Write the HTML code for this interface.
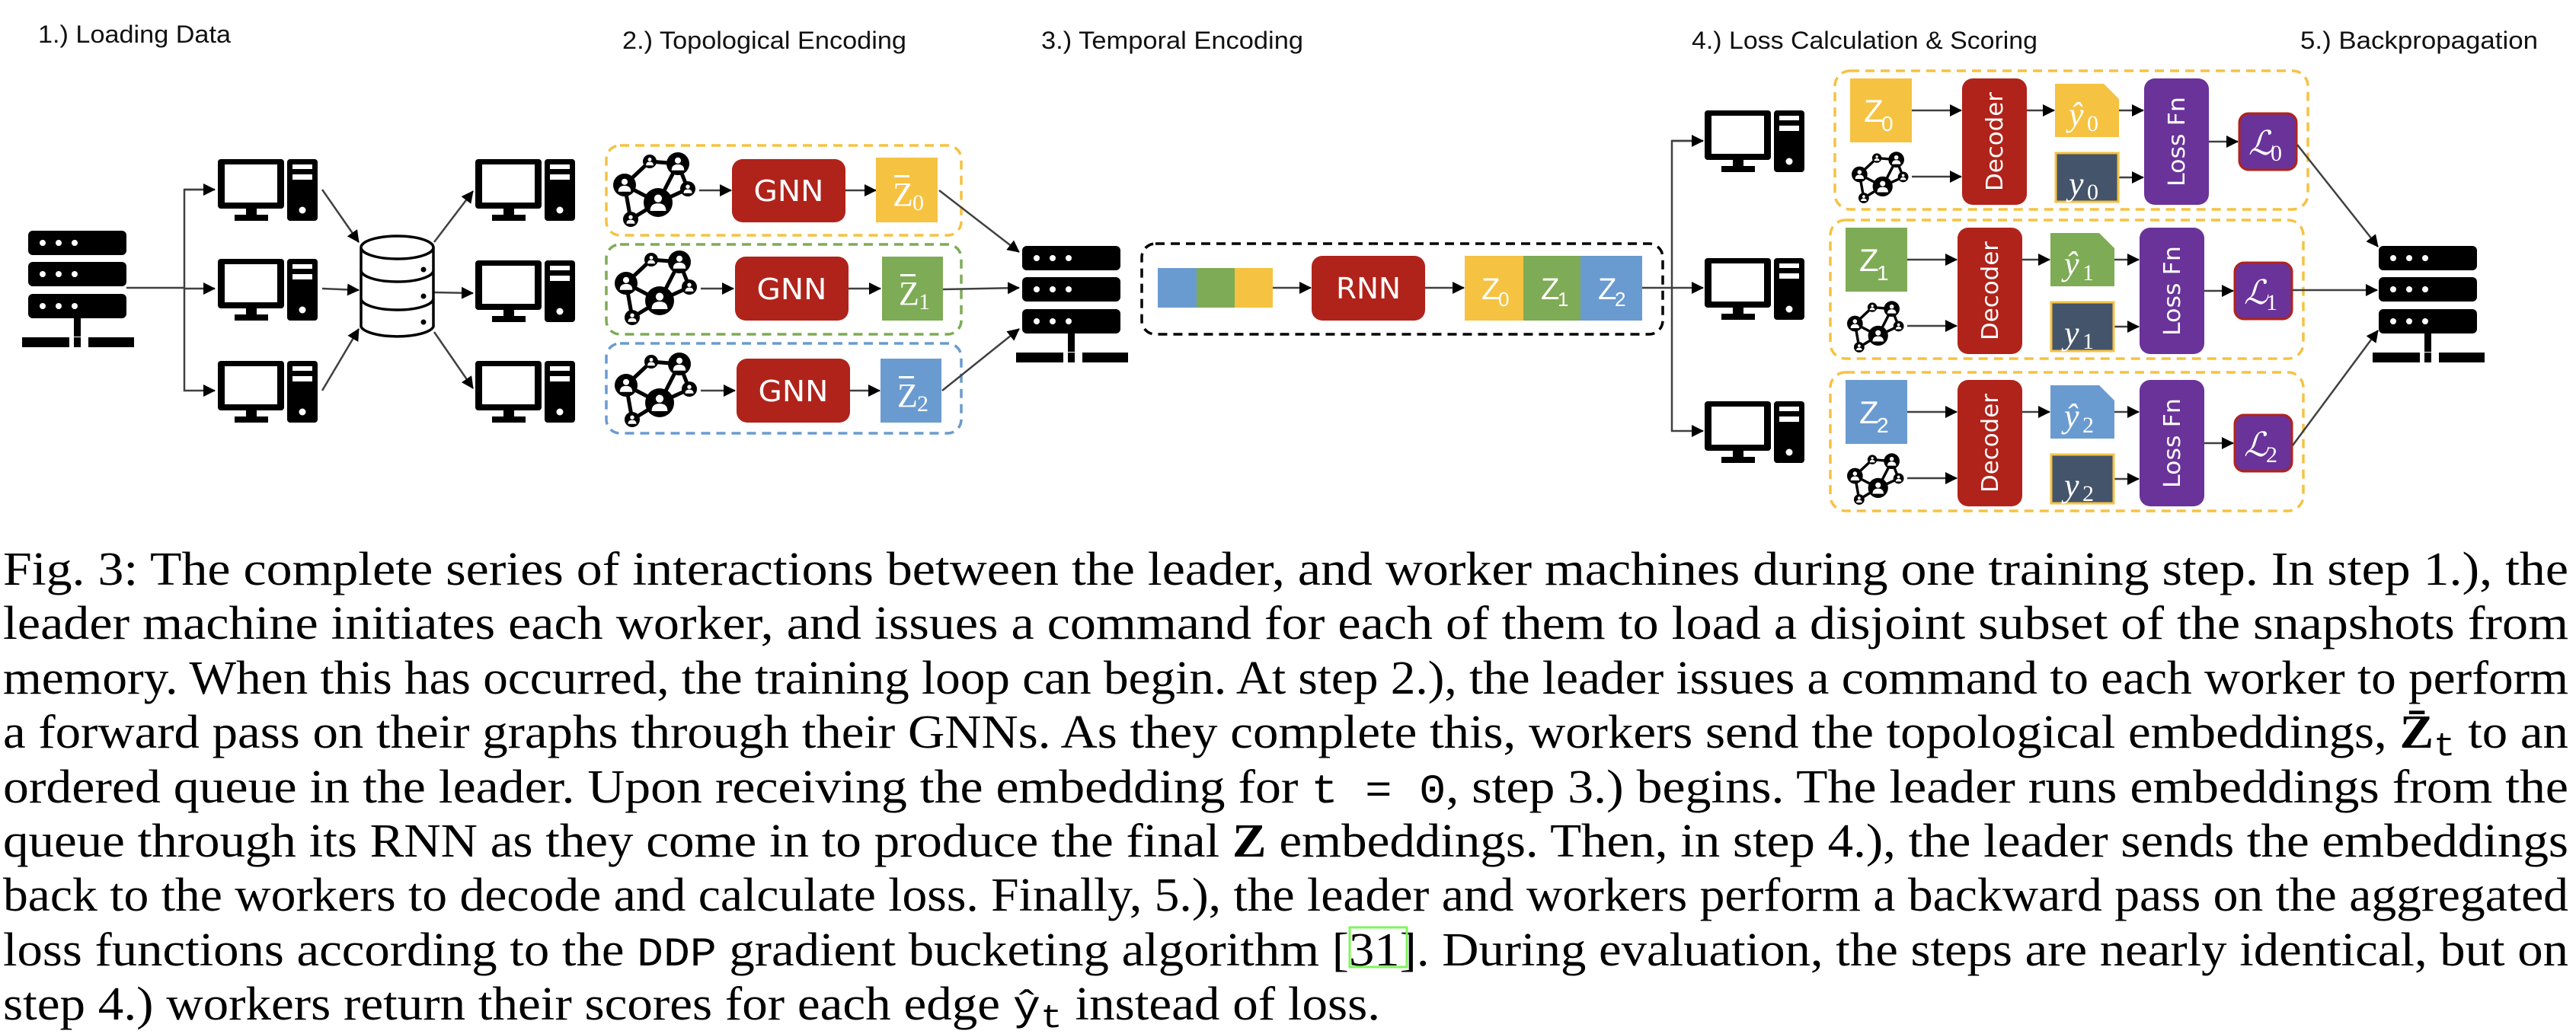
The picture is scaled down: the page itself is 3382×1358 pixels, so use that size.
<!DOCTYPE html>
<html><head><meta charset="utf-8"><style>
html,body{margin:0;padding:0;background:#fff;}
svg{display:block;}
</style></head><body>
<svg width="3382" height="1358" viewBox="0 0 3382 1358" xmlns="http://www.w3.org/2000/svg">
<defs>
<marker id="ah" markerWidth="16" markerHeight="16" refX="15" refY="8" orient="auto" markerUnits="userSpaceOnUse">
<path d="M0,0 L16,8 L0,16 Z" fill="#000"/>
</marker>
<g id="nd">
<circle r="1" fill="#000"/>
<circle cx="0" cy="-0.28" r="0.27" fill="#fff"/>
<path d="M-0.55,0.58 Q-0.55,0.06 0,0.06 Q0.55,0.06 0.55,0.58 Z" fill="#fff"/>
</g>
<g id="gr">
<g stroke="#000" stroke-width="5" fill="none">
<line x1="15" y1="42" x2="48" y2="11"/><line x1="48" y1="11" x2="85" y2="14"/>
<line x1="85" y1="14" x2="98" y2="47"/><line x1="85" y1="14" x2="59" y2="65"/>
<line x1="98" y1="47" x2="59" y2="65"/><line x1="15" y1="42" x2="59" y2="65"/>
<line x1="15" y1="42" x2="23" y2="87"/><line x1="23" y1="87" x2="59" y2="65"/>
</g>
<use href="#nd" transform="translate(15,42) scale(15)"/>
<use href="#nd" transform="translate(48,11) scale(9)"/>
<use href="#nd" transform="translate(85,14) scale(15)"/>
<use href="#nd" transform="translate(98,47) scale(10)"/>
<use href="#nd" transform="translate(59,65) scale(19)"/>
<use href="#nd" transform="translate(23,87) scale(10)"/>
</g>
<g id="pc">
<rect x="0" y="0" width="87" height="65" rx="4" fill="#000"/>
<rect x="9" y="7" width="69" height="50" fill="#fff"/>
<rect x="37" y="64" width="14" height="10" fill="#000"/>
<rect x="22" y="73" width="44" height="8" fill="#000"/>
<rect x="91" y="0" width="40" height="81" rx="4" fill="#000"/>
<rect x="98" y="7" width="26" height="6" fill="#fff"/>
<rect x="98" y="20" width="26" height="7" fill="#fff"/>
<circle cx="111" cy="67" r="4.5" fill="#fff"/>
</g>
<g id="srv">
<rect x="0" y="0" width="129" height="32" rx="6" fill="#000"/>
<rect x="0" y="41" width="129" height="32" rx="6" fill="#000"/>
<rect x="0" y="83" width="129" height="32" rx="6" fill="#000"/>
<g fill="#fff">
<circle cx="19" cy="16" r="4"/><circle cx="40" cy="16" r="4"/><circle cx="61" cy="16" r="4"/>
<circle cx="19" cy="57" r="4"/><circle cx="40" cy="57" r="4"/><circle cx="61" cy="57" r="4"/>
<circle cx="19" cy="99" r="4"/><circle cx="40" cy="99" r="4"/><circle cx="61" cy="99" r="4"/>
</g>
<rect x="60" y="115" width="9" height="24" fill="#000"/>
<rect x="-8" y="140" width="62" height="13" fill="#000"/>
<rect x="60" y="140" width="9" height="13" fill="#000"/>
<rect x="79" y="140" width="60" height="13" fill="#000"/>
</g>
</defs>

<!-- Titles -->
<g font-family="Liberation Sans, sans-serif" font-size="32" fill="#111">
<text x="50" y="56" textLength="253" lengthAdjust="spacingAndGlyphs">1.) Loading Data</text>
<text x="817" y="64" textLength="373" lengthAdjust="spacingAndGlyphs">2.) Topological Encoding</text>
<text x="1367" y="64" textLength="344" lengthAdjust="spacingAndGlyphs">3.) Temporal Encoding</text>
<text x="2221" y="64" textLength="454" lengthAdjust="spacingAndGlyphs">4.) Loss Calculation &amp; Scoring</text>
<text x="3020" y="64" textLength="312" lengthAdjust="spacingAndGlyphs">5.) Backpropagation</text>
</g>

<!-- Stage 1 -->
<use href="#srv" transform="translate(37,303)"/>
<g stroke="#404040" stroke-width="2.5" fill="none">
<polyline points="166,378 242,378"/>
<polyline points="282,249 242,249 242,513 282,513" marker-end="url(#ah)"/>
<line x1="242" y1="249" x2="282" y2="249" marker-end="url(#ah)"/>
<line x1="242" y1="379" x2="282" y2="379" marker-end="url(#ah)"/>
<line x1="423" y1="249" x2="471" y2="318" marker-end="url(#ah)"/>
<line x1="423" y1="379" x2="471" y2="381" marker-end="url(#ah)"/>
<line x1="423" y1="513" x2="471" y2="432" marker-end="url(#ah)"/>
<line x1="570" y1="318" x2="621" y2="251" marker-end="url(#ah)"/>
<line x1="570" y1="384" x2="621" y2="385" marker-end="url(#ah)"/>
<line x1="570" y1="436" x2="621" y2="510" marker-end="url(#ah)"/>
</g>
<use href="#pc" transform="translate(286,209)"/>
<use href="#pc" transform="translate(286,340)"/>
<use href="#pc" transform="translate(286,474)"/>
<use href="#pc" transform="translate(624,209)"/>
<use href="#pc" transform="translate(624,342)"/>
<use href="#pc" transform="translate(624,474)"/>
<!-- database -->
<g stroke="#000" stroke-width="3.5" fill="#fff">
<path d="M474,325 L474,429 A48,15 0 0 0 569,429 L569,325"/>
<ellipse cx="521.5" cy="325" rx="47.5" ry="15"/>
<path d="M474,355 A47.5,15 0 0 0 569,355" fill="none"/>
<path d="M474,392 A47.5,15 0 0 0 569,392" fill="none"/>
</g>
<g fill="#000"><circle cx="556" cy="354" r="3.5"/><circle cx="556" cy="389" r="3.5"/><circle cx="556" cy="423" r="3.5"/></g>

<!-- Stage 2 -->
<g fill="none" stroke-width="3.5" stroke-dasharray="12 8">
<rect x="796" y="191" width="466" height="118" rx="18" stroke="#f5c242"/>
<rect x="796" y="321" width="466" height="118" rx="18" stroke="#7eab55"/>
<rect x="796" y="451" width="466" height="118" rx="18" stroke="#6a9bd0"/>
</g>
<use href="#gr" transform="translate(805,201)"/>
<use href="#gr" transform="translate(807,330)"/>
<use href="#gr" transform="translate(807,464)"/>
<g stroke="#404040" stroke-width="2.5">
<line x1="918" y1="250" x2="960" y2="250" marker-end="url(#ah)"/>
<line x1="1110" y1="250" x2="1150" y2="250" marker-end="url(#ah)"/>
<line x1="920" y1="379" x2="963" y2="379" marker-end="url(#ah)"/>
<line x1="1114" y1="379" x2="1156" y2="379" marker-end="url(#ah)"/>
<line x1="920" y1="513" x2="965" y2="513" marker-end="url(#ah)"/>
<line x1="1116" y1="513" x2="1155" y2="513" marker-end="url(#ah)"/>
<line x1="1233" y1="250" x2="1338" y2="331" marker-end="url(#ah)"/>
<line x1="1238" y1="380" x2="1338" y2="378" marker-end="url(#ah)"/>
<line x1="1237" y1="513" x2="1338" y2="432" marker-end="url(#ah)"/>
</g>
<g fill="#b0231a">
<rect x="961" y="209" width="149" height="83" rx="14"/>
<rect x="965" y="337" width="149" height="84" rx="14"/>
<rect x="967" y="471" width="149" height="84" rx="14"/>
</g>
<g font-family="DejaVu Sans, sans-serif" font-size="38" fill="#fff" text-anchor="middle">
<text x="1035.5" y="264" textLength="92" lengthAdjust="spacingAndGlyphs">GNN</text>
<text x="1039.5" y="393" textLength="92" lengthAdjust="spacingAndGlyphs">GNN</text>
<text x="1041.5" y="527" textLength="92" lengthAdjust="spacingAndGlyphs">GNN</text>
</g>
<rect x="1150" y="207" width="81" height="85" fill="#f5c242"/>
<rect x="1158" y="337" width="80" height="84" fill="#7eab55"/>
<rect x="1156" y="471" width="80" height="84" fill="#6a9bd0"/>
<g font-family="Liberation Serif, serif" fill="#fff">
<text x="1172" y="270" font-size="44">Z</text><text x="1198" y="276" font-size="30">0</text>
<rect x="1174" y="230" width="20" height="3"/>
<text x="1180" y="400" font-size="44">Z</text><text x="1206" y="406" font-size="30">1</text>
<rect x="1182" y="360" width="20" height="3"/>
<text x="1178" y="534" font-size="44">Z</text><text x="1204" y="540" font-size="30">2</text>
<rect x="1180" y="494" width="20" height="3"/>
</g>

<!-- Stage 3 -->
<use href="#srv" transform="translate(1342,323)"/>
<rect x="1499" y="320" width="684" height="119" rx="18" fill="none" stroke="#000" stroke-width="3.5" stroke-dasharray="12 8"/>
<rect x="1520" y="352" width="51" height="52" fill="#6a9bd0"/>
<rect x="1571" y="352" width="50" height="52" fill="#7eab55"/>
<rect x="1621" y="352" width="50" height="52" fill="#f5c242"/>
<g stroke="#404040" stroke-width="2.5" fill="none">
<line x1="1671" y1="378" x2="1721" y2="378" marker-end="url(#ah)"/>
<line x1="1871" y1="378" x2="1922" y2="378" marker-end="url(#ah)"/>
<line x1="2156" y1="378" x2="2236" y2="378" marker-end="url(#ah)"/>
<polyline points="2236,185 2195,185 2195,566 2236,566" marker-end="url(#ah)"/>
<line x1="2195" y1="185" x2="2236" y2="185" marker-end="url(#ah)"/>
</g>
<rect x="1722" y="336" width="149" height="85" rx="14" fill="#b0231a"/>
<text x="1796.5" y="392" font-family="DejaVu Sans, sans-serif" font-size="38" fill="#fff" text-anchor="middle" textLength="85" lengthAdjust="spacingAndGlyphs">RNN</text>
<rect x="1923" y="336" width="77" height="85" fill="#f5c242"/>
<rect x="2000" y="336" width="75" height="85" fill="#7eab55"/>
<rect x="2075" y="336" width="81" height="85" fill="#6a9bd0"/>
<g font-family="Liberation Sans, sans-serif" fill="#fff">
<text x="1945" y="393" font-size="40">Z</text><text x="1967" y="402" font-size="26">0</text>
<text x="2023" y="393" font-size="40">Z</text><text x="2045" y="402" font-size="26">1</text>
<text x="2098" y="393" font-size="40">Z</text><text x="2120" y="402" font-size="26">2</text>
</g>

<!-- Stage 4 -->
<use href="#pc" transform="translate(2238,145)"/>
<use href="#pc" transform="translate(2238,339)"/>
<use href="#pc" transform="translate(2238,527)"/>

<g id="row0">
<rect x="2409" y="93" width="621" height="182" rx="20" fill="none" stroke="#f5c242" stroke-width="3.5" stroke-dasharray="12 8"/>
<use href="#gr" transform="translate(2431,200) scale(0.69)"/>
<g stroke="#404040" stroke-width="2.5">
<line x1="2510" y1="145" x2="2575" y2="145" marker-end="url(#ah)"/>
<line x1="2510" y1="232" x2="2575" y2="232" marker-end="url(#ah)"/>
<line x1="2661" y1="145" x2="2697" y2="145" marker-end="url(#ah)"/>
<line x1="2782" y1="145" x2="2814" y2="145" marker-end="url(#ah)"/>
<line x1="2782" y1="233" x2="2814" y2="233" marker-end="url(#ah)"/>
<line x1="2900" y1="186" x2="2938" y2="186" marker-end="url(#ah)"/>
</g>
<rect x="2576" y="103" width="85" height="166" rx="14" fill="#b0231a"/>
<rect x="2815" y="103" width="85" height="166" rx="14" fill="#6a3399"/>
<rect x="2940" y="149" width="75" height="74" rx="12" fill="#6a3399" stroke="#b0231a" stroke-width="3"/>
<rect x="2699" y="201" width="82" height="64" fill="#44546a" stroke="#f5c242" stroke-width="3"/>
<g font-family="DejaVu Sans, sans-serif" font-size="30" fill="#fff" text-anchor="middle">
<text transform="translate(2629,186) rotate(-90)" textLength="130" lengthAdjust="spacingAndGlyphs">Decoder</text>
<text transform="translate(2868,186) rotate(-90)" textLength="118" lengthAdjust="spacingAndGlyphs">Loss Fn</text>
</g>
</g>
<use href="#row0" transform="translate(-6,196)"/>
<use href="#row0" transform="translate(-6,396)"/>

<!-- row-specific colored boxes -->
<rect x="2429" y="103" width="81" height="84" fill="#f5c242"/>
<path d="M2698,110 H2762 L2782,130 V180 H2698 Z" fill="#f5c242"/>
<rect x="2423" y="299" width="81" height="84" fill="#7eab55"/>
<path d="M2692,306 H2756 L2776,326 V376 H2692 Z" fill="#7eab55"/>
<rect x="2423" y="499" width="81" height="84" fill="#6a9bd0"/>
<path d="M2692,506 H2756 L2776,526 V576 H2692 Z" fill="#6a9bd0"/>

<g font-family="Liberation Sans, sans-serif" fill="#fff">
<text x="2447" y="160" font-size="42">Z</text><text x="2470" y="172" font-size="28">0</text>
<text x="2441" y="356" font-size="42">Z</text><text x="2464" y="368" font-size="28">1</text>
<text x="2441" y="556" font-size="42">Z</text><text x="2464" y="568" font-size="28">2</text>
</g>
<g font-family="Liberation Serif, serif" fill="#fff">
<g font-style="italic" font-size="44">
<text x="2716" y="165">ŷ</text><text x="2716" y="256">y</text>
<text x="2710" y="361">ŷ</text><text x="2710" y="452">y</text>
<text x="2710" y="561">ŷ</text><text x="2710" y="652">y</text>
</g>
<g font-size="30">
<text x="2740" y="172">0</text><text x="2740" y="262">0</text>
<text x="2734" y="368">1</text><text x="2734" y="458">1</text>
<text x="2734" y="568">2</text><text x="2734" y="658">2</text>
</g>
<g font-style="italic" font-size="44">
<text x="2952" y="203">ℒ</text><text x="2946" y="399">ℒ</text><text x="2946" y="599">ℒ</text>
</g>
<g font-size="30">
<text x="2981" y="211">0</text><text x="2975" y="407">1</text><text x="2975" y="607">2</text>
</g>
</g>

<!-- Stage 5 -->
<g stroke="#404040" stroke-width="2.5">
<line x1="3016" y1="190" x2="3122" y2="324" marker-end="url(#ah)"/>
<line x1="3010" y1="381" x2="3121" y2="381" marker-end="url(#ah)"/>
<line x1="3010" y1="585" x2="3122" y2="434" marker-end="url(#ah)"/>
</g>
<use href="#srv" transform="translate(3123,323)"/>

<!-- Caption -->
<g font-family="Liberation Serif, serif" font-size="62" fill="#000">
<text x="4" y="768" textLength="3368" lengthAdjust="spacingAndGlyphs">Fig. 3: The complete series of interactions between the leader, and worker machines during one training step. In step 1.), the</text>
<text x="4" y="839" textLength="3368" lengthAdjust="spacingAndGlyphs">leader machine initiates each worker, and issues a command for each of them to load a disjoint subset of the snapshots from</text>
<text x="4" y="911" textLength="3368" lengthAdjust="spacingAndGlyphs">memory. When this has occurred, the training loop can begin. At step 2.), the leader issues a command to each worker to perform</text>
<text x="4" y="982" textLength="3368" lengthAdjust="spacingAndGlyphs">a forward pass on their graphs through their GNNs. As they complete this, workers send the topological embeddings, <tspan font-weight="bold">Z̄</tspan><tspan font-family="Liberation Mono, monospace" font-size="44" dy="10">t</tspan><tspan dy="-10"> to an</tspan></text>
<text x="4" y="1054" textLength="3368" lengthAdjust="spacingAndGlyphs">ordered queue in the leader. Upon receiving the embedding for <tspan font-family="Liberation Mono, monospace" font-size="54">t = 0</tspan>, step 3.) begins. The leader runs embeddings from the</text>
<text x="4" y="1125" textLength="3368" lengthAdjust="spacingAndGlyphs">queue through its RNN as they come in to produce the final <tspan font-weight="bold">Z</tspan> embeddings. Then, in step 4.), the leader sends the embeddings</text>
<text x="4" y="1196" textLength="3368" lengthAdjust="spacingAndGlyphs">back to the workers to decode and calculate loss. Finally, 5.), the leader and workers perform a backward pass on the aggregated</text>
<text x="4" y="1268" textLength="3368" lengthAdjust="spacingAndGlyphs">loss functions according to the <tspan font-family="Liberation Mono, monospace" font-size="54">DDP</tspan> gradient bucketing algorithm [31]. During evaluation, the steps are nearly identical, but on</text>
<text x="4" y="1339" textLength="1808" lengthAdjust="spacingAndGlyphs">step 4.) workers return their scores for each edge <tspan font-family="Liberation Mono, monospace" font-size="56">ŷ</tspan><tspan font-family="Liberation Mono, monospace" font-size="44" dy="10">t</tspan><tspan dy="-10"> instead of loss.</tspan></text>
</g>
<rect x="1772" y="1218" width="75" height="52" fill="none" stroke="#7ef55a" stroke-width="3"/>
</svg>
</body></html>
